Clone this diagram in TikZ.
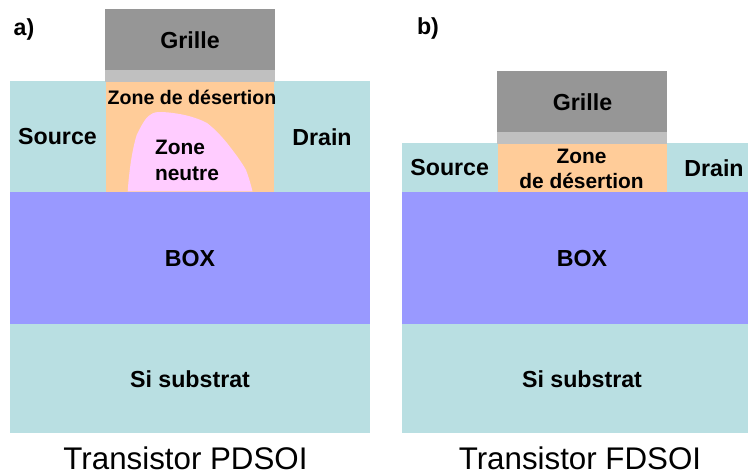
\documentclass[tikz,border=0pt]{standalone}
\usepackage{fontspec}
\setmainfont{Liberation Sans}
\definecolor{siteal}{HTML}{B9DFE2}
\definecolor{boxblue}{HTML}{9999FF}
\definecolor{depl}{HTML}{FFCC99}
\definecolor{neutre}{HTML}{FFCCFF}
\definecolor{gate}{HTML}{969696}
\definecolor{oxide}{HTML}{C0C0C0}
\tikzset{
  lbl/.style={inner sep=0pt,font=\fontsize{23.2}{26}\selectfont\bfseries,align=center,text=black},
  small/.style={inner sep=0pt,font=\fontsize{20.9}{25.5}\selectfont\bfseries,align=center,text=black},
  tight/.style={inner sep=0pt,font=\fontsize{19.6}{24}\selectfont\bfseries,align=center,text=black},
  caption/.style={inner sep=0pt,font=\fontsize{31.3}{36}\selectfont,text=black},
}
\begin{document}
\begin{tikzpicture}[x=1pt,y=-1pt]
\useasboundingbox (0,0) rectangle (748,473);
% panel a
\fill[siteal] (10,324) rectangle (370,433);
\fill[boxblue] (10,192) rectangle (370,324);
\fill[siteal] (10,81) rectangle (106,192);
\fill[siteal] (274,81) rectangle (370,192);
\fill[depl] (106,82) rectangle (274,192);
\fill[oxide] (105,70) rectangle (275,82);
\fill[gate] (105,9) rectangle (275,70);
\fill[neutre] (127.7,191.5) .. controls (129,172) and (132,150) .. (136.7,135)
  .. controls (141,126) and (146,117) .. (150,115)
  .. controls (154,112) and (157,112) .. (162,112)
  .. controls (180,113) and (196,117) .. (207,123)
  .. controls (216,130) and (222,137) .. (227,143)
  .. controls (234,152) and (241,161) .. (246,170)
  .. controls (249,178) and (251,185) .. (252.5,191.5) -- cycle;
\node[lbl] (la) at (24,30) {a)};
\node[lbl] (grillea) at (190,40) {Grille};
\node[tight] (zda) at (192,97) {Zone de désertion};
\node[lbl] (sourcea) at (57.5,137) {Source};
\node[lbl] (draina) at (322,137) {Drain};
\node[small,align=left] (zna) at (187,160.5) {Zone\\neutre};
\node[lbl] (boxa) at (190,259) {BOX};
\node[lbl] (suba) at (190,379) {Si substrat};
\node[caption] (capa) at (185.5,458.5) {Transistor PDSOI};
% panel b
\fill[siteal] (402,324) rectangle (748,433);
\fill[boxblue] (402,192) rectangle (748,324);
\fill[siteal] (402,143) rectangle (498,192);
\fill[siteal] (667,143) rectangle (748,192);
\fill[depl] (498,144) rectangle (667,192);
\fill[oxide] (497,132) rectangle (667,144);
\fill[gate] (497,71) rectangle (667,132);
\node[lbl] (lb) at (428,29) {b)};
\node[lbl] (grilleb) at (582.5,102) {Grille};
\node[small] (zdb) at (581.5,169) {Zone\\de désertion};
\node[lbl] (sourceb) at (449.7,168) {Source};
\node[lbl] (drainb) at (714,168) {Drain};
\node[lbl] (boxb) at (582,259) {BOX};
\node[lbl] (subb) at (582,379) {Si substrat};
\node[caption] (capb) at (580,458.5) {Transistor FDSOI};
\end{tikzpicture}
\end{document}
